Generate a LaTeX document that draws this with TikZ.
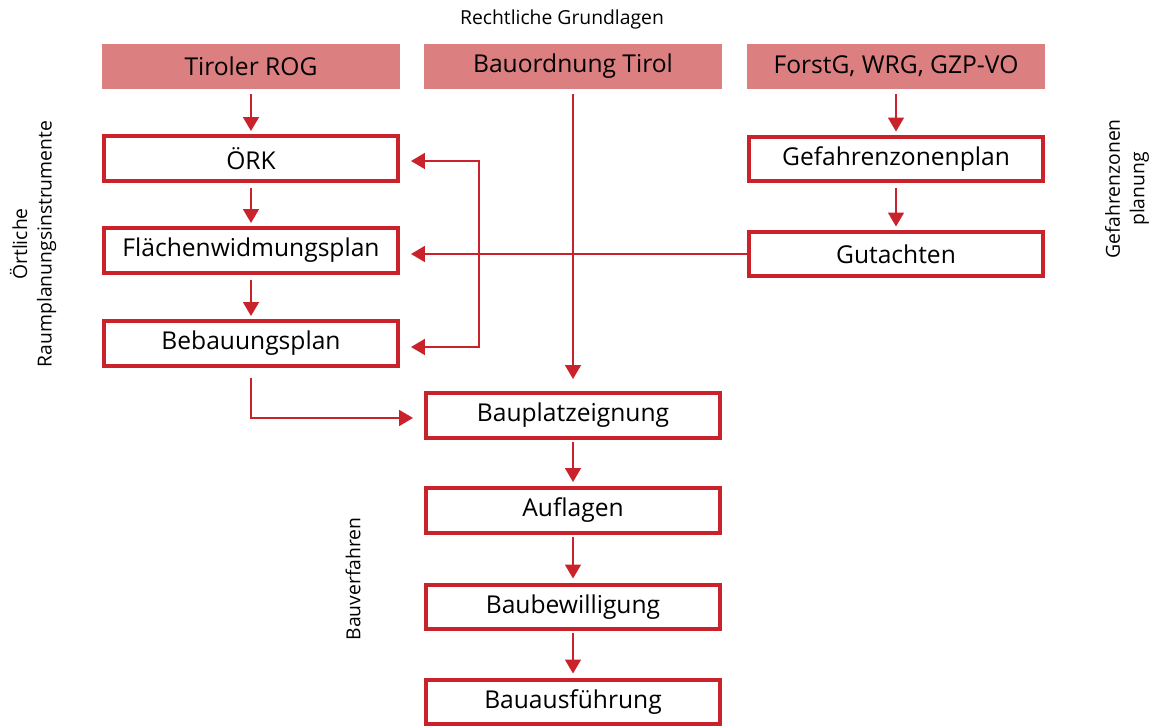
\documentclass[tikz,border=0pt]{standalone}
\usepackage{fontspec}
\setmainfont{Open Sans}
\usetikzlibrary{arrows.meta}
\definecolor{lawpink}{RGB}{219,127,128}
\definecolor{planred}{RGB}{201,34,43}
\begin{document}
\begin{tikzpicture}[
        x=0.02cm,
        y=-0.02cm,
        font=\fontsize{14}{16}\selectfont,
        >={Triangle[width=0.32cm,length=0.28cm]}
    ]
    \tikzset{
        lawbox/.style = {rectangle, fill=lawpink, minimum width=5.95cm, minimum height=0.9cm, inner sep=0pt},
        planbox/.style = {rectangle, draw=planred, line width=0.08cm, fill=white, minimum width=5.88cm, minimum height=0.9cm, inner sep=0pt},
        sidelabel/.style = {rotate=90, align=center, font=\fontsize{11}{14}\selectfont},
        arr/.style = {->, draw=planred, line width=0.034cm},
        arrs/.style = {arr, shorten <=0.1cm, shorten >=0.06cm},
    }
    \useasboundingbox (0,0) rectangle (1154,726);
    \node[font=\fontsize{11}{13}\selectfont] (title) at (562,19) {Rechtliche Grundlagen};
    \node[lawbox] (rog) at (251,66.5) {Tiroler ROG};
    \node[lawbox] (bo) at (573,66.5) {Bauordnung Tirol};
    \node[lawbox] (forst) at (896,66.5) {ForstG, WRG, GZP-VO};
    %
    \node[planbox] (ork) at (251,158.5) {ÖRK};
    \node[planbox] (fwp) at (251,250.5) {Flächenwidmungsplan};
    \node[planbox] (beb) at (251,343.5) {Bebauungsplan};
    \node[planbox] (gzp) at (896,159) {Gefahrenzonenplan};
    \node[planbox] (gut) at (896,254) {Gutachten};
    \node[planbox] (bpe) at (573,415.5) {Bauplatzeignung};
    \node[planbox] (aufl) at (573,510.5) {Auflagen};
    \node[planbox] (bbw) at (573,607) {Baubewilligung};
    \node[planbox] (baf) at (573,702) {Bauausführung};
    %
    \node[sidelabel] (lorp) at (33,244) {Örtliche\\Raumplanungsinstrumente};
    \node[sidelabel] (lgzp) at (1127,189) {Gefahrenzonen\\planung};
    \node[sidelabel] (lbv) at (353,579) {Bauverfahren};
    %
    \coordinate (kt) at (479,161);
    \coordinate (kb) at (479,347);
    %
    \draw[arrs] (rog) -- (ork);
    \draw[arrs] (ork) -- (fwp);
    \draw[arrs] (fwp) -- (beb);
    \draw[arrs] (forst) -- (gzp);
    \draw[arrs] (gzp) -- (gut);
    %
    \draw[arr, shorten <=0.1cm, shorten >=0.24cm] (bo) -- (bpe);
    \draw[arr, shorten <=0.04cm, shorten >=0.08cm] (bpe) -- (aufl);
    \draw[arr, shorten <=0.04cm, shorten >=0.08cm] (aufl) -- (bbw);
    \draw[arr, shorten <=0.04cm, shorten >=0.08cm] (bbw) -- (baf);
    %
    \draw[arr, <->, shorten <=0.22cm, shorten >=0.22cm] (kt -| ork.east) -- (kt) -- (kb) -- (kb -| beb.east);
    \draw[arr, shorten >=0.22cm] (gut.west) -- (gut.west -| fwp.east);
    \draw[arr, shorten <=0.2cm, shorten >=0.22cm] (beb.south) |- ([yshift=-0.05cm]bpe.west);
\end{tikzpicture}
\end{document}
